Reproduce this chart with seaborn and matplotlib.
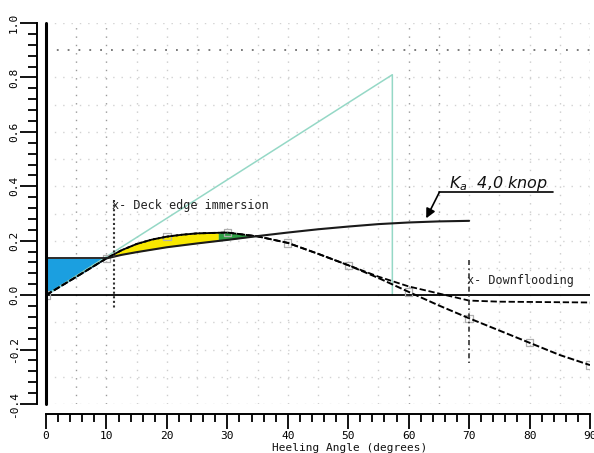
import numpy as np
import pandas as pd
import matplotlib
matplotlib.use("Agg")
import matplotlib.pyplot as plt
import seaborn as sns
from matplotlib.ticker import MultipleLocator, FormatStrFormatter

# Righting lever (GZ) curves, metres, against heel angle in degrees
angles = [0, 5, 10, 12.5, 15, 17.5, 20, 22.5, 25, 30, 35, 40, 45, 50, 55, 60, 65, 70,
          75, 80, 85, 90]
gz_intact = [0.000, 0.067, 0.135, 0.165, 0.188, 0.204, 0.215, 0.222, 0.227, 0.230,
             0.216, 0.192, 0.152, 0.110, 0.063, 0.012, -0.038, -0.085, -0.130,
             -0.175, -0.220, -0.257]
gz_flooded = [0.000, 0.067, 0.135, 0.165, 0.188, 0.204, 0.215, 0.222, 0.227, 0.230,
              0.216, 0.192, 0.152, 0.110, 0.068, 0.032, 0.006, -0.020, -0.024,
              -0.025, -0.026, -0.027]
marker_angles = [0, 10, 20, 30, 40, 50, 60, 70, 80, 90]

# Wind heeling lever
wind_angles = [0, 5, 10, 12.5, 15, 20, 25, 30, 35, 40, 45, 50, 55, 60, 65, 70]
wind_arm = [0.135, 0.135, 0.135, 0.148, 0.158, 0.176, 0.190, 0.203, 0.217, 0.230,
            0.242, 0.252, 0.261, 0.267, 0.271, 0.273]

# Initial GM triangle (GM drawn at one radian)
gm_x = [0, 57.3, 57.3]
gm_y = [0, 0.81, 0.0]

deck_edge_angle = 11.3
downflood_angle = 70.0
area_split_angle = 28.5
wind_label = r"$K_a$  4,0 knop"

PT = 72 / 100  # points per pixel at 100 dpi

sns.set_theme(style="white")
plt.rcParams["font.family"] = ["DejaVu Sans Mono", "DejaVu Sans"]
plt.rcParams["axes.unicode_minus"] = False
plt.rcParams["mathtext.fontset"] = "dejavusans"

fig = plt.figure(figsize=(5.94, 4.53), dpi=100)
ax = fig.add_axes([46 / 594, 49 / 453, 544 / 594, 381 / 453])
ax.set_xlim(0, 90)
ax.set_ylim(-0.4, 1.0)

# dotted background grid
for gx in range(5, 91, 5):
    dark = gx in (5, 10, 60, 65, 90)
    ax.axvline(gx, color="#999999" if dark else "#cccccc", lw=1.0,
               ls=(0, (1, 5)), zorder=0)
for gy in np.arange(-0.4, 1.01, 0.1):
    if abs(gy) < 1e-9:
        continue
    dark = abs(gy - 0.9) < 1e-9
    ax.axhline(gy, color="#6f6f6f" if dark else "#d2d2d2",
               lw=1.3 if dark else 1.0, ls=(0, (1, 5)), zorder=0)

# filled areas between GZ and wind lever
xf = np.linspace(0, 70, 1401)
gz_f = np.interp(xf, angles, gz_intact)
wind_f = np.interp(xf, wind_angles, wind_arm)
ax.fill_between(xf, gz_f, wind_f, where=(xf <= 10.0), color="#1b9fe0",
                lw=0, zorder=1)
ax.fill_between(xf, gz_f, wind_f,
                where=(xf >= 10.0) & (xf <= area_split_angle) & (gz_f >= wind_f),
                color="#f8e800", lw=0, zorder=1, interpolate=True)
ax.fill_between(xf, gz_f, wind_f,
                where=(xf >= area_split_angle) & (xf <= 40) & (gz_f >= wind_f),
                color="#2f9e45", lw=0, zorder=1, interpolate=True)

# GM triangle
sns.lineplot(x=gm_x, y=gm_y, ax=ax, sort=False, estimator=None,
             color="#95d8c6", lw=1.1, zorder=2)

# axis lines at zero
ax.axvline(0, color="black", lw=2.2, clip_on=False, zorder=5)
ax.axhline(0, color="black", lw=1.3, zorder=3)

curves = pd.DataFrame({"angle": angles, "intact": gz_intact, "flooded": gz_flooded})
marks = curves[curves["angle"].isin(marker_angles)]
sns.scatterplot(data=marks, x="angle", y="intact", ax=ax, marker="s", s=28,
                facecolor="none", edgecolor="#b0b0b0", linewidth=0.9, zorder=3)

sns.lineplot(data=curves, x="angle", y="flooded", ax=ax, color="black", lw=1.3,
             ls=(0, (3.5, 1.5)), zorder=4)
sns.lineplot(data=curves, x="angle", y="intact", ax=ax, color="black", lw=1.4,
             ls=(0, (3.5, 1.3)), zorder=4)
sns.lineplot(x=wind_angles[2:], y=wind_arm[2:], ax=ax, color="#1a1a1a", lw=1.5, zorder=4)
sns.lineplot(x=wind_angles[:3], y=wind_arm[:3], ax=ax, color="#1a1a1a", lw=1.3, zorder=4)

# deck edge immersion and downflooding markers
ax.plot([deck_edge_angle, deck_edge_angle], [0.35, -0.055], color="#333333",
        lw=1.5, ls=(0, (1, 1.2)), zorder=4)
ax.text(deck_edge_angle - 0.35, 0.33, "x- Deck edge immersion", fontsize=8.5,
        color="#222222", ha="left", va="center")
ax.plot([downflood_angle, downflood_angle], [0.13, -0.25], color="#333333",
        lw=1.2, ls=(0, (3, 2, 1, 2)), zorder=4)
ax.text(downflood_angle - 0.35, 0.052, "x- Downflooding", fontsize=8.5,
        color="#222222", ha="left", va="center")

# handwritten wind note with leader arrow
tip_angle = 62.9
tip_y = float(np.interp(tip_angle, wind_angles, wind_arm)) + 0.013
ax.annotate("", xy=(tip_angle, tip_y), xytext=(65.1, 0.379),
            arrowprops=dict(arrowstyle="-|>", color="black", lw=1.2,
                            mutation_scale=14, shrinkA=0, shrinkB=0), zorder=6)
ax.plot([65.1, 83.9], [0.379, 0.379], color="black", lw=1.2, zorder=6)
ax.text(66.6, 0.395, wind_label, fontsize=11.5, style="italic",
        family=["DejaVu Sans"], color="#111111", ha="left", va="baseline")

# ruler-style axes
for side in ("top", "right"):
    ax.spines[side].set_visible(False)
ax.spines["left"].set_position(("outward", 9 * PT))
ax.spines["bottom"].set_position(("outward", 10 * PT))
for side in ("left", "bottom"):
    ax.spines[side].set_color("black")
    ax.spines[side].set_linewidth(1.4)

ax.xaxis.set_major_locator(MultipleLocator(10))
ax.xaxis.set_minor_locator(MultipleLocator(2))
ax.yaxis.set_major_locator(MultipleLocator(0.2))
ax.yaxis.set_minor_locator(MultipleLocator(0.04))
ax.yaxis.set_major_formatter(FormatStrFormatter("%.1f"))
ax.tick_params(axis="both", which="both", direction="out", colors="black",
               width=1.3, labelsize=8)
ax.tick_params(axis="x", which="major", length=15 * PT, pad=2 * PT, bottom=True)
ax.tick_params(axis="x", which="minor", length=8 * PT, bottom=True)
ax.tick_params(axis="y", which="major", length=17 * PT, pad=1 * PT, left=True,
               labelrotation=90)
ax.tick_params(axis="y", which="minor", length=9 * PT, left=True)
plt.setp(ax.get_yticklabels(), va="center")
ax.set_xlabel("")
ax.set_ylabel("")

fig.text(350 / 594, 1 - 448 / 453, "Heeling Angle (degrees)", fontsize=8,
         ha="center", va="center", color="#111111")

fig.savefig("out.png", dpi=100)
